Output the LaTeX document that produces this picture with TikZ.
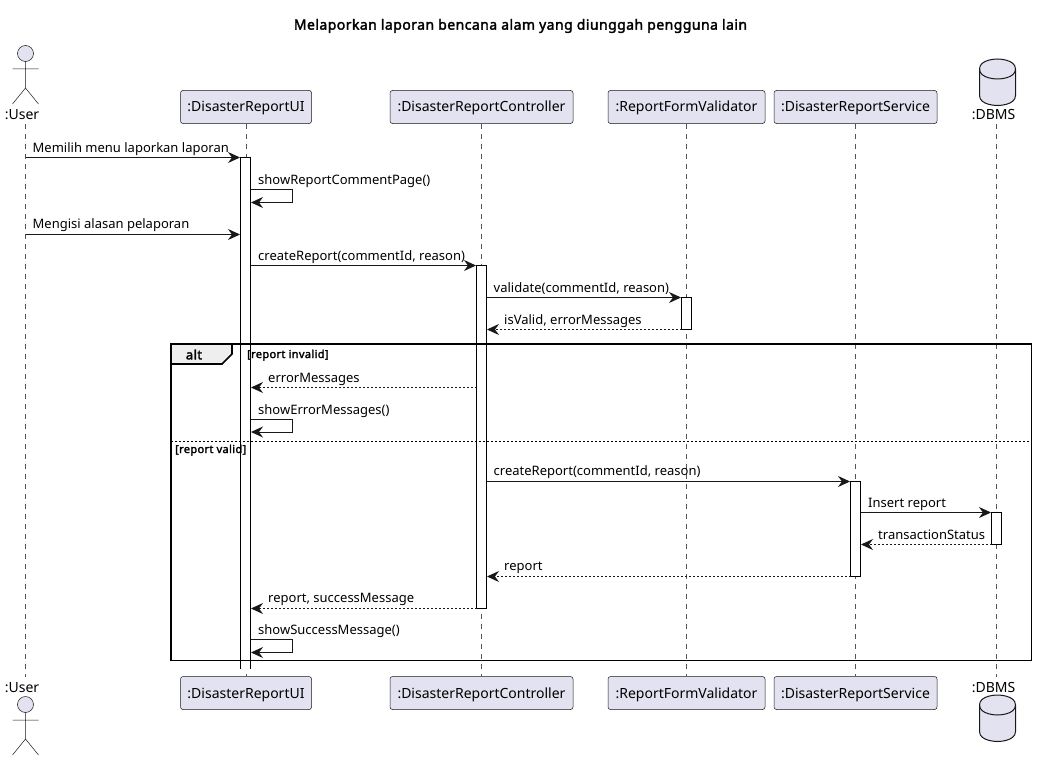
\documentclass[tikz,border=0pt]{standalone}
\usepackage{fontspec}
\setmainfont{Noto Sans}
\newfontfamily\boldface{Noto Sans}[FakeBold=2.2,LetterSpace=3.2]
\usetikzlibrary{arrows.meta}
\definecolor{pfill}{HTML}{E2E2F0}
\definecolor{pline}{HTML}{181818}
\definecolor{lifec}{HTML}{555555}
\definecolor{tabc}{HTML}{EEEEEE}
\tikzset{
  x=1pt,y=-1pt,
  partbox/.style={draw=pline,fill=pfill,rounded corners=2.5pt,line width=0.5pt,minimum height=33pt,inner xsep=0pt,inner ysep=0pt},
  parttext/.style={inner sep=0pt,anchor=base,font=\fontsize{14}{16}\selectfont,text=black},
  plainlabel/.style={inner sep=0pt,font=\fontsize{14}{16}\selectfont,text=black},
  msglabel/.style={inner sep=0pt,anchor=base west,font=\fontsize{13}{15}\selectfont,text=black},
  condlabel/.style={inner sep=0pt,anchor=base west,font=\boldface\fontsize{11}{13}\selectfont,text=black},
  lifeline/.style={draw=lifec,line width=0.5pt,dash pattern=on 5pt off 5pt},
  actbar/.style={draw=black,fill=white,line width=1pt},
  sync/.style={draw=pline,line width=1pt,-{Stealth[length=12pt,width=11pt,inset=4pt]}},
  reply/.style={sync,dash pattern=on 2pt off 2pt},
  framebox/.style={draw=black,line width=1.6pt},
  stick/.style={draw=pline,line width=0.5pt},
}
\begin{document}
\begin{tikzpicture}
\useasboundingbox (0,0) rectangle (1037,760);
\fill[white] (0,0) rectangle (1037,760);
% title
\node[inner sep=0pt,font=\boldface\fontsize{14}{16}\selectfont] (title) at (520.5,26) {Melaporkan laporan bencana alam yang diunggah pengguna lain};
% participants
\node[partbox,minimum width=131pt] (uiT) at (246,107) {};
\node[partbox,minimum width=183pt] (ctT) at (481.5,107) {};
\node[partbox,minimum width=157pt] (vaT) at (686.5,107) {};
\node[partbox,minimum width=163pt] (seT) at (855.5,107) {};
\node[partbox,minimum width=131pt] (uiB) at (246,693) {};
\node[partbox,minimum width=183pt] (ctB) at (481.5,693) {};
\node[partbox,minimum width=157pt] (vaB) at (686.5,693) {};
\node[partbox,minimum width=163pt] (seB) at (855.5,693) {};
\node[parttext] (uiTt) at (246,112) {:DisasterReportUI};
\node[parttext] (ctTt) at (481.5,112) {:DisasterReportController};
\node[parttext] (vaTt) at (686.5,112) {:ReportFormValidator};
\node[parttext] (seTt) at (855.5,112) {:DisasterReportService};
\node[parttext] (uiBt) at (246,698) {:DisasterReportUI};
\node[parttext] (ctBt) at (481.5,698) {:DisasterReportController};
\node[parttext] (vaBt) at (686.5,698) {:ReportFormValidator};
\node[parttext] (seBt) at (855.5,698) {:DisasterReportService};
\node[parttext] (usT) at (22,120) {:User};
\node[parttext] (usB) at (22,692) {:User};
\node[parttext] (dbT) at (993.5,120) {:DBMS};
\node[parttext] (dbB) at (993.5,692) {:DBMS};
% lifelines
\coordinate (uL1) at (25.5,124); \coordinate (uL2) at (25.5,677);
\coordinate (dL1) at (996.5,124); \coordinate (dL2) at (996.5,677);
\draw[lifeline] (uL1) -- (uL2);
\draw[lifeline] (uiT.south) -- (uiB.north);
\draw[lifeline] (ctT.south) -- (ctB.north);
\draw[lifeline] (vaT.south) -- (vaB.north);
\draw[lifeline] (seT.south) -- (seB.north);
\draw[lifeline] (dL1) -- (dL2);
% actors
\foreach \yo/\nm in {0/a,651/b}{
  \begin{scope}[yshift=-\yo pt]
  \draw[stick,fill=pfill] (25.5,53.5) circle (8);
  \draw[stick] (25.5,61.5) -- (25.5,88) (12.5,69) -- (38.5,69) (12.5,104) -- (25.5,88) -- (38.5,104);
  \end{scope}
}
% databases
\foreach \yo in {0,636}{
  \begin{scope}[yshift=-\yo pt]
  \draw[draw=pline,fill=pfill,line width=1pt]
    (979.5,69) .. controls (979.5,59) and (997.5,59) .. (997.5,59)
    .. controls (997.5,59) and (1015.5,59) .. (1015.5,69)
    -- (1015.5,95.5) .. controls (1015.5,105.5) and (997.5,105.5) .. (997.5,105.5)
    .. controls (997.5,105.5) and (979.5,105.5) .. (979.5,95.5) -- cycle;
  \draw[draw=pline,line width=1pt]
    (979.5,69) .. controls (979.5,79) and (997.5,79) .. (997.5,79)
    .. controls (997.5,79) and (1015.5,79) .. (1015.5,69);
  \end{scope}
}
% activation bars
\fill[white] (240.5,157.5) rectangle (250.5,668.5);
\draw[draw=black,line width=1pt] (240.5,668.5) -- (240.5,157.5) -- (250.5,157.5) -- (250.5,668.5);
\draw[actbar] (476.5,265.5) rectangle (486.5,608.5);
\draw[actbar] (681.5,297.5) rectangle (691.5,329.5);
\draw[actbar] (850.5,481.5) rectangle (860.5,576.5);
\draw[actbar] (991.5,512.5) rectangle (1001.5,544.5);
% alt frame
\draw[framebox] (171,344) rectangle (1031.5,660.5);
\draw[draw=black,line width=1.6pt,fill=tabc] (171,344) -- (232,344) -- (232,354) -- (222,364) -- (171,364) -- cycle;
\node[inner sep=0pt,font=\boldface\fontsize{13}{15}\selectfont] (alt) at (194,354.5) {alt};
\coordinate (dv1) at (171,441); \coordinate (dv2) at (1031.5,441);
\draw[draw=black,line width=1pt,dash pattern=on 2pt off 2pt] (dv1) -- (dv2);
\node[condlabel] (c1) at (247,358) {[report invalid]};
\node[condlabel] (c2) at (175,453) {[report valid]};
% message ends
\coordinate (a1) at (25.5,157.5); \coordinate (b1) at (240,157.5);
\coordinate (a2) at (25.5,234.5); \coordinate (b2) at (240,234.5);
\coordinate (a3) at (250.5,265.5); \coordinate (b3) at (476,265.5);
\coordinate (a4) at (486.5,297.5); \coordinate (b4) at (681,297.5);
\coordinate (a5) at (681.5,329.5); \coordinate (b5) at (487,329.5);
\coordinate (a6) at (476.5,387.5); \coordinate (b6) at (251,387.5);
\coordinate (a7) at (486.5,481.5); \coordinate (b7) at (850,481.5);
\coordinate (a8) at (860.5,512.5); \coordinate (b8) at (991,512.5);
\coordinate (a9) at (991.5,544.5); \coordinate (b9) at (861,544.5);
\coordinate (a10) at (850.5,576.5); \coordinate (b10) at (487,576.5);
\coordinate (a11) at (476.5,608.5); \coordinate (b11) at (251,608.5);
\coordinate (s1a) at (250.5,189.5); \coordinate (s1c) at (292.5,189.5); \coordinate (s1d) at (292.5,202.5); \coordinate (s1b) at (251,202.5);
\coordinate (s2a) at (250.5,419); \coordinate (s2c) at (292.5,419); \coordinate (s2d) at (292.5,432); \coordinate (s2b) at (251,432);
\coordinate (s3a) at (250.5,639.5); \coordinate (s3c) at (292.5,639.5); \coordinate (s3d) at (292.5,652.5); \coordinate (s3b) at (251,652.5);
% messages
\draw[sync] (a1) -- (b1);
\draw[sync] (s1a) -- (s1c) -- (s1d) -- (s1b);
\draw[sync] (a2) -- (b2);
\draw[sync] (a3) -- (b3);
\draw[sync] (a4) -- (b4);
\draw[reply] (a5) -- (b5);
\draw[reply] (a6) -- (b6);
\draw[sync] (s2a) -- (s2c) -- (s2d) -- (s2b);
\draw[sync] (a7) -- (b7);
\draw[sync] (a8) -- (b8);
\draw[reply] (a9) -- (b9);
\draw[reply] (a10) -- (b10);
\draw[reply] (a11) -- (b11);
\draw[sync] (s3a) -- (s3c) -- (s3d) -- (s3b);
% labels
\node[msglabel] (t1) at (32.5,152) {Memilih menu laporkan laporan};
\node[msglabel] (t2) at (258,184) {showReportCommentPage()};
\node[msglabel] (t3) at (32.5,228) {Mengisi alasan pelaporan};
\node[msglabel] (t4) at (258,260) {createReport(commentId, reason)};
\node[msglabel] (t5) at (493.5,292) {validate(commentId, reason)};
\node[msglabel] (t6) at (504,324) {isValid, errorMessages};
\node[msglabel] (t7) at (268,382) {errorMessages};
\node[msglabel] (t8) at (258,414) {showErrorMessages()};
\node[msglabel] (t9) at (493.5,475) {createReport(commentId, reason)};
\node[msglabel] (t10) at (868,507) {Insert report};
\node[msglabel] (t11) at (878,539) {transactionStatus};
\node[msglabel] (t12) at (504,570) {report};
\node[msglabel] (t13) at (268,602) {report, successMessage};
\node[msglabel] (t14) at (258,634) {showSuccessMessage()};
\end{tikzpicture}
\end{document}
